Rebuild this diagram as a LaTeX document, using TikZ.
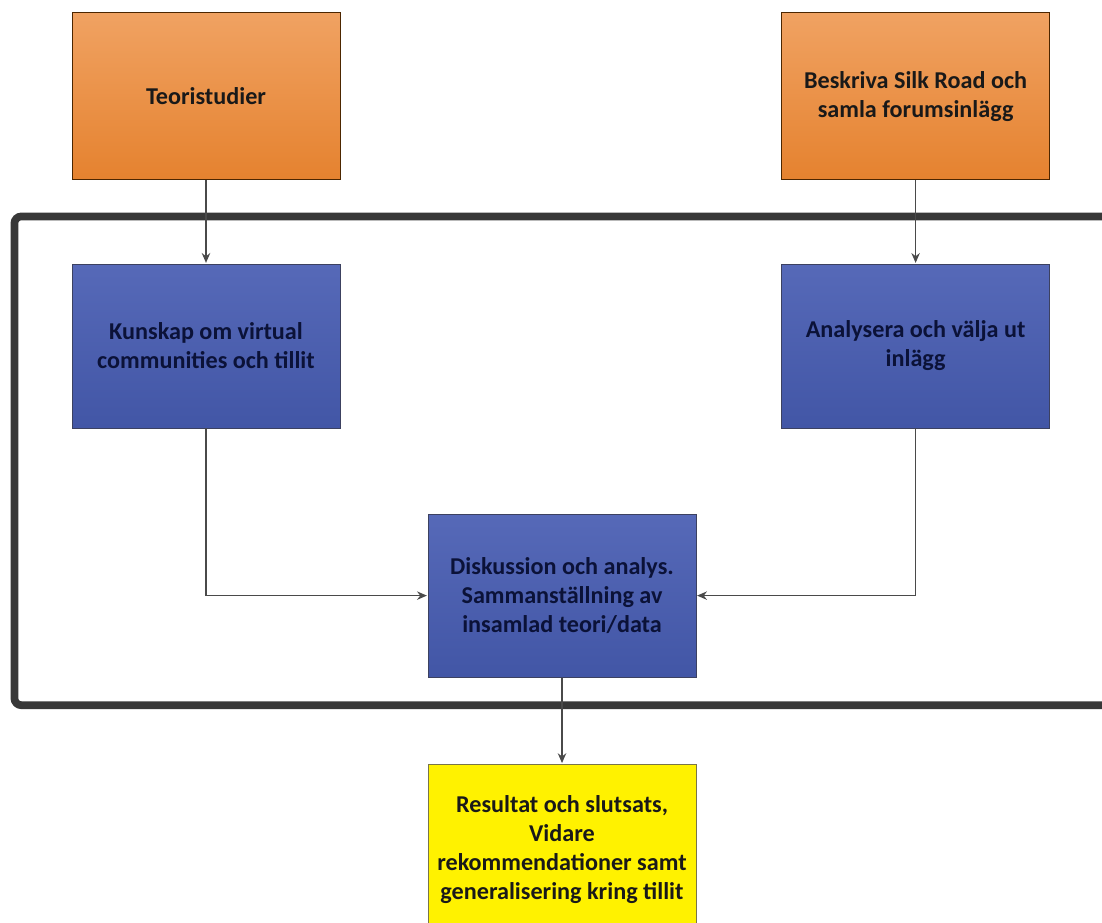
\documentclass[tikz,border=0pt]{standalone}
\usepackage{fontspec}
\setmainfont{Carlito}
\usetikzlibrary{arrows.meta}

\definecolor{orangeTop}{HTML}{F0A262}
\definecolor{orangeBot}{HTML}{E5822F}
\definecolor{blueTop}{HTML}{5669B8}
\definecolor{blueBot}{HTML}{4256A6}
\definecolor{navyText}{HTML}{0B1238}
\definecolor{lineGray}{HTML}{4A4A4A}

\begin{document}
\begin{tikzpicture}[>={Stealth[length=7pt,width=6pt]},
  box/.style={draw,line width=0.6pt,align=center,minimum width=6.7cm,inner sep=4pt,
    font=\fontsize{17.2}{20.6}\selectfont\bfseries},
  orangebox/.style={box,draw=black!70!orange,top color=orangeTop,bottom color=orangeBot,minimum height=4.175cm,text=black!90},
  bluebox/.style={box,draw=navyText!80,top color=blueTop,bottom color=blueBot,minimum height=4.1cm,text=navyText},
  yellowbox/.style={box,draw=black!60!yellow,fill=yellow,minimum height=4.25cm,text=black!90},
  conn/.style={->,draw=lineGray,line width=0.9pt,shorten >=0.5pt}]
\useasboundingbox (0,0) rectangle (27.55,-23.05);
% outer frame, runs past the right edge
\draw[line width=5.5pt,draw=black!78,rounded corners=5pt] (0.36,-5.41) rectangle (28.2,-17.63);
\node[orangebox] (teori) at (5.15,-2.41) {Teoristudier};
\node[orangebox] (silk) at (22.89,-2.41) {Beskriva Silk Road och\\ samla forumsinlägg};
\node[bluebox] (kunskap) at (5.15,-8.65) {Kunskap om virtual\\ communities och tillit};
\node[bluebox] (analys) at (22.89,-8.65) {Analysera och välja ut\\ inlägg};
\node[bluebox,minimum height=4.075cm] (disk) at (14.05,-14.89) {Diskussion och analys.\\ Sammanställning av\\ insamlad teori/data};
\node[yellowbox] (result) at (14.05,-21.23) {Resultat och slutsats,\\ Vidare\\ rekommendationer samt\\ generalisering kring tillit};
\draw[conn] (teori) -- (kunskap);
\draw[conn] (silk) -- (analys);
\draw[conn] (kunskap) |- (disk);
\draw[conn] (analys) |- (disk);
\draw[conn] (disk) -- (result);
\end{tikzpicture}
\end{document}
